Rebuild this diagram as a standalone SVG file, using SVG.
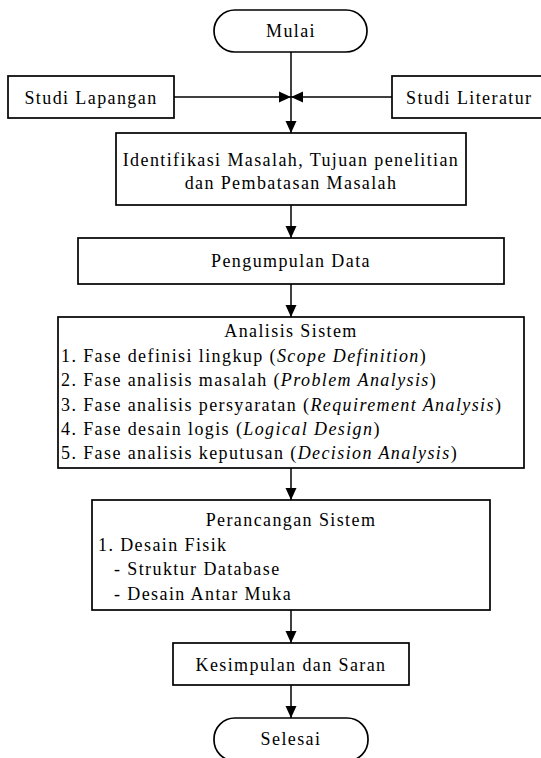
<svg xmlns="http://www.w3.org/2000/svg" width="541" height="758" viewBox="0 0 541 758">
<style>
.b{fill:#fff;stroke:#000;stroke-width:1.7}
.t{font-family:"Liberation Serif","Times New Roman",serif;font-size:18px;letter-spacing:1.4px;fill:#000}
.c{text-anchor:middle}
.l{fill:none;stroke:#000;stroke-width:1.5}
.i{font-style:italic}
</style>
<defs>
<marker id="ah" markerWidth="12" markerHeight="12" viewBox="0 0 12 12" refX="12" refY="6" orient="auto" markerUnits="userSpaceOnUse">
<path d="M0,0.5 L12,6 L0,11.5 Z" fill="#000"/>
</marker>
</defs>
<rect width="541" height="758" fill="#fff"/>
<g id="connectors">
<line class="l" x1="291" y1="52" x2="291" y2="133" marker-end="url(#ah)"/>
<line class="l" x1="174" y1="97" x2="291" y2="97" marker-end="url(#ah)"/>
<line class="l" x1="392" y1="97" x2="291" y2="97" marker-end="url(#ah)"/>
<line class="l" x1="291" y1="205" x2="291" y2="238" marker-end="url(#ah)"/>
<line class="l" x1="291" y1="284" x2="291" y2="317" marker-end="url(#ah)"/>
<line class="l" x1="291" y1="468" x2="291" y2="500" marker-end="url(#ah)"/>
<line class="l" x1="291" y1="610" x2="291" y2="643" marker-end="url(#ah)"/>
<line class="l" x1="291" y1="685" x2="291" y2="718" marker-end="url(#ah)"/>
</g>
<g id="mulai">
<rect class="b" x="214" y="10" width="153" height="42" rx="21" ry="21"/>
<text class="t c" x="291" y="37">Mulai</text>
</g>
<g id="studi-lapangan">
<rect class="b" x="8" y="76" width="166" height="42"/>
<text class="t c" x="91" y="104">Studi Lapangan</text>
</g>
<g id="studi-literatur">
<rect class="b" x="392" y="76" width="156" height="42"/>
<text class="t" x="406" y="104">Studi Literatur</text>
</g>
<g id="identifikasi">
<rect class="b" x="116" y="133" width="350" height="72"/>
<text class="t c" x="291" y="166">Identifikasi Masalah, Tujuan penelitian</text>
<text class="t c" x="291" y="189">dan Pembatasan Masalah</text>
</g>
<g id="pengumpulan">
<rect class="b" x="78" y="238" width="426" height="46"/>
<text class="t c" x="291" y="267">Pengumpulan Data</text>
</g>
<g id="analisis">
<rect class="b" x="58" y="317" width="466" height="151"/>
<text class="t c" x="291" y="337">Analisis Sistem</text>
<text class="t" x="61" y="362">1. Fase definisi lingkup (<tspan class="i">Scope Definition</tspan>)</text>
<text class="t" x="61" y="386">2. Fase analisis masalah (<tspan class="i">Problem Analysis</tspan>)</text>
<text class="t" x="61" y="410.5">3. Fase analisis persyaratan (<tspan class="i">Requirement Analysis</tspan>)</text>
<text class="t" x="61" y="435">4. Fase desain logis (<tspan class="i">Logical Design</tspan>)</text>
<text class="t" x="61" y="459">5. Fase analisis keputusan (<tspan class="i">Decision Analysis</tspan>)</text>
</g>
<g id="perancangan">
<rect class="b" x="92" y="500" width="398" height="110"/>
<text class="t c" x="291" y="526">Perancangan Sistem</text>
<text class="t" x="98" y="551">1. Desain Fisik</text>
<text class="t" x="114" y="575">- Struktur Database</text>
<text class="t" x="114" y="600">- Desain Antar Muka</text>
</g>
<g id="kesimpulan">
<rect class="b" x="173" y="643" width="236" height="42"/>
<text class="t c" x="291" y="671">Kesimpulan dan Saran</text>
</g>
<g id="selesai">
<rect class="b" x="214" y="718" width="154" height="43" rx="21" ry="21"/>
<text class="t c" x="291" y="745">Selesai</text>
</g>
</svg>
